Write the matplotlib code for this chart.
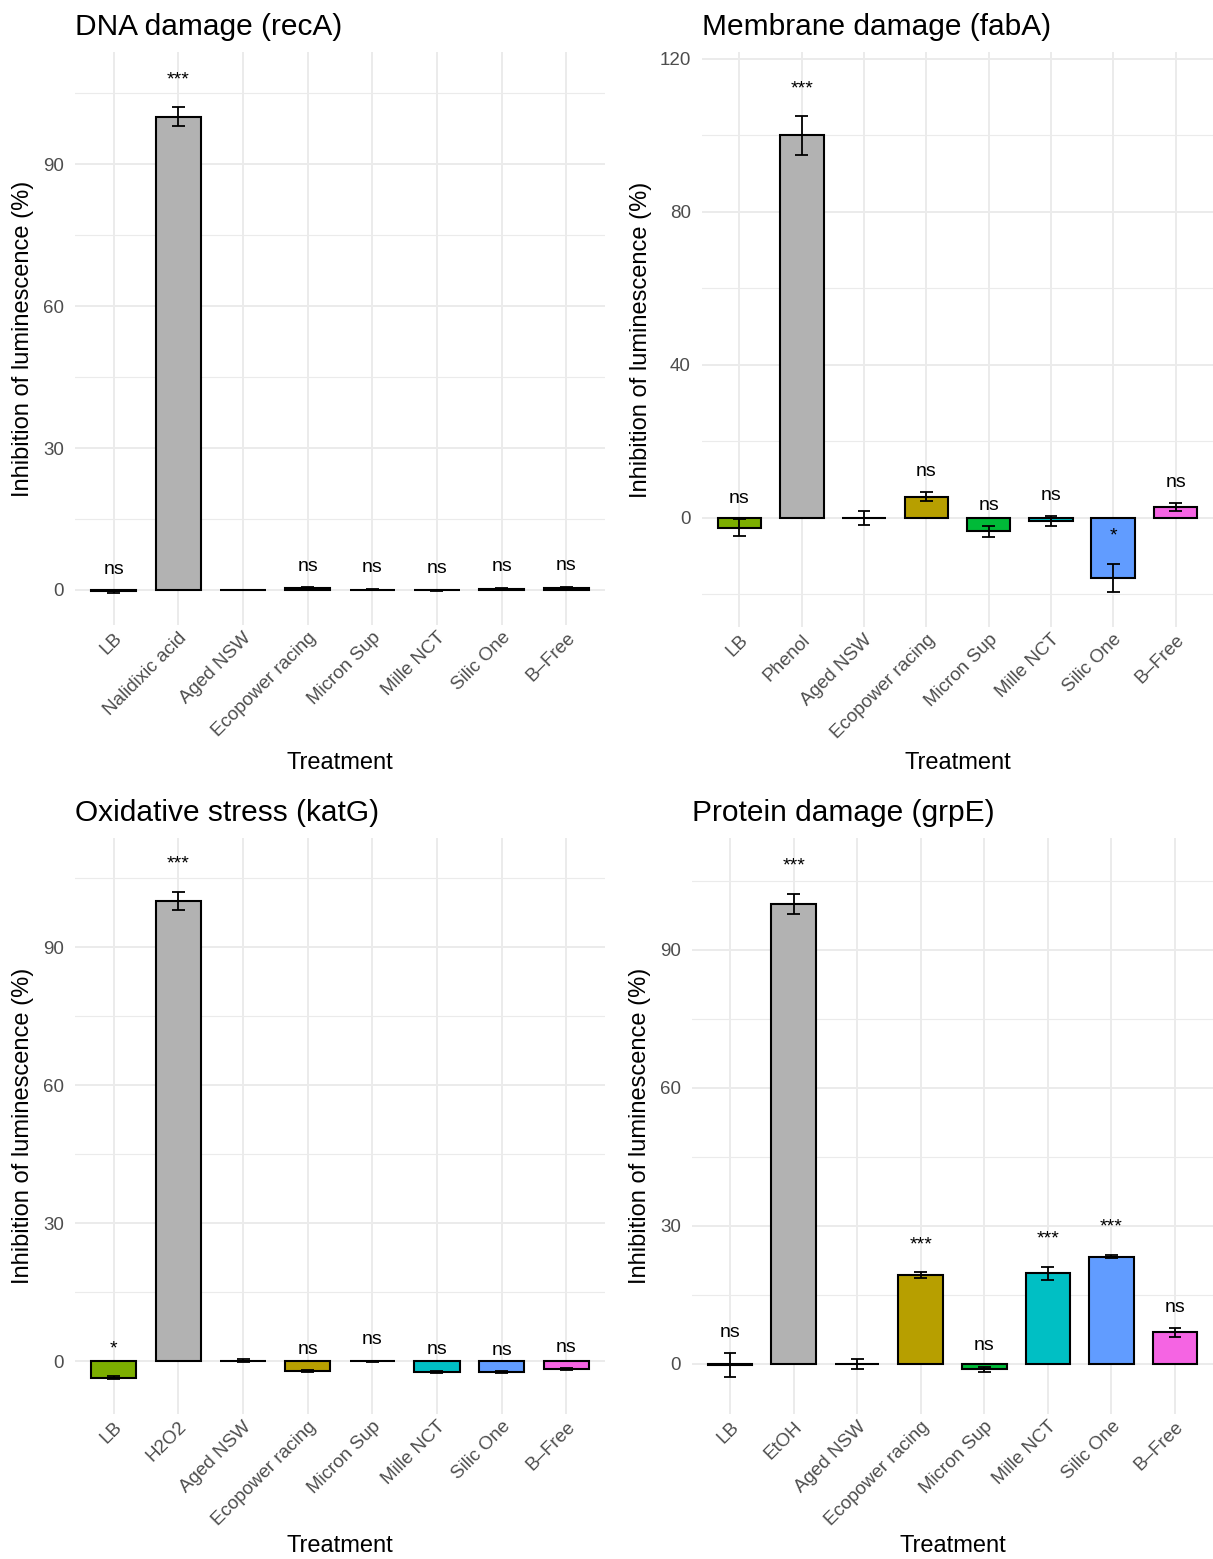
import numpy as np
import matplotlib
matplotlib.use("Agg")
import matplotlib.pyplot as plt
from matplotlib.ticker import FixedLocator

plt.rcParams['font.family'] = ['Liberation Sans', 'DejaVu Sans']

# treatment order on the x axis (the positive control changes per reporter)
samples = ["LB", "Aged NSW", "Ecopower racing", "Micron Sup", "Mille NCT", "Silic One", "B–Free"]
fills = ["#7CAE00", "#F8766D", "#B79F00", "#00BA38", "#00BFC4", "#619CFF", "#F564E3"]
control_fill = "#B2B2B2"

# DNA damage (recA), positive control nalidixic acid
recA_control = "Nalidixic acid"
recA_mean = [-0.3, 100.0, 0.0, 0.4, 0.1, -0.1, 0.3, 0.5]
recA_se = [0.3, 2.0, 0.1, 0.2, 0.2, 0.2, 0.2, 0.2]
recA_sig = ["ns", "***", "", "ns", "ns", "ns", "ns", "ns"]

# Membrane damage (fabA), positive control phenol
fabA_control = "Phenol"
fabA_mean = [-2.5, 100.0, 0.0, 5.6, -3.5, -0.9, -15.7, 2.8]
fabA_se = [2.2, 5.0, 1.9, 1.1, 1.4, 1.3, 3.7, 1.0]
fabA_sig = ["ns", "***", "", "ns", "ns", "ns", "*", "ns"]

# Oxidative stress (katG), positive control H2O2
katG_control = "H2O2"
katG_mean = [-3.6, 100.0, 0.1, -2.1, 0.0, -2.3, -2.4, -1.7]
katG_se = [0.3, 2.0, 0.4, 0.2, 0.1, 0.2, 0.2, 0.2]
katG_sig = ["*", "***", "", "ns", "ns", "ns", "ns", "ns"]

# Protein damage (grpE), positive control EtOH
grpE_control = "EtOH"
grpE_mean = [-0.3, 100.0, 0.05, 19.3, -1.2, 19.7, 23.3, 6.85]
grpE_se = [2.6, 2.2, 1.1, 0.6, 0.6, 1.4, 0.4, 0.95]
grpE_sig = ["ns", "***", "", "***", "ns", "***", "***", "ns"]

W, H = 1213, 1559
fig = plt.figure(figsize=(W / 100, H / 100), dpi=100)


def add_axes(left, top, right, bottom):
    return fig.add_axes([left / W, 1 - bottom / H, (right - left) / W, (bottom - top) / H])


def panel(ax, title, control, mean, se, sig, major, minor, ylim, ylab_px, xlab_px):
    labels = [samples[0], control] + samples[1:]
    colors = [fills[0], control_fill] + fills[1:]
    x = np.arange(len(labels))
    mean = np.array(mean)
    se = np.array(se)

    ax.set_xlim(-0.6, len(labels) - 0.4)
    ax.set_ylim(*ylim)
    ax.yaxis.set_major_locator(FixedLocator(major))
    ax.yaxis.set_minor_locator(FixedLocator(minor))
    ax.grid(True, which='major', color='#EBEBEB', lw=1.4, zorder=0)
    ax.grid(True, which='minor', axis='y', color='#EBEBEB', lw=0.8, zorder=0)
    ax.set_axisbelow(True)
    for s in ax.spines.values():
        s.set_visible(False)
    ax.tick_params(which='both', length=0)
    ax.tick_params(axis='y', pad=8, labelsize=13.5, labelcolor='#4D4D4D')
    ax.tick_params(axis='x', pad=3, labelsize=13.5, labelcolor='#4D4D4D')

    ax.bar(x, mean, width=0.7, color=colors, edgecolor='black', linewidth=1.5, zorder=2)
    # error bars: mean +/- SE
    ax.vlines(x, mean - se, mean + se, color='black', lw=1.3, zorder=3)
    ax.hlines(mean - se, x - 0.1, x + 0.1, color='black', lw=1.3, zorder=3)
    ax.hlines(mean + se, x - 0.1, x + 0.1, color='black', lw=1.3, zorder=3)

    for xi, top, s in zip(x, mean + se, sig):
        if s:
            # asterisks sit a little higher than the "ns" labels
            dy = 20 if '*' in s else 15
            ax.annotate(s, (xi, top), xytext=(0, dy), textcoords='offset points',
                        ha='center', va='center', fontsize=14, zorder=4)

    ax.set_xticks(x)
    ax.set_xticklabels(labels, rotation=45, ha='right', va='top', rotation_mode='anchor')
    ax.set_title(title, loc='left', fontsize=21.5, pad=12)

    # axis titles placed a fixed number of pixels away from the panel
    bb = ax.get_position()
    w_px, h_px = bb.width * W, bb.height * H
    ax.set_xlabel("Treatment", fontsize=17, va='center')
    ax.xaxis.set_label_coords(0.5, -xlab_px / h_px)
    ax.set_ylabel("Inhibition of luminescence (%)", fontsize=17, va='center')
    ax.yaxis.set_label_coords(-ylab_px / w_px, 0.5)


ax1 = add_axes(75, 52, 605, 625)
panel(ax1, "DNA damage (recA)", recA_control, recA_mean, recA_se, recA_sig,
      [0, 30, 60, 90], [15, 45, 75, 105], (-7.4, 113.7), 52, 138)

ax2 = add_axes(702, 52, 1213, 627)
panel(ax2, "Membrane damage (fabA)", fabA_control, fabA_mean, fabA_se, fabA_sig,
      [0, 40, 80, 120], [-20, 20, 60, 100], (-28.5, 121.8), 61, 136)

ax3 = add_axes(75, 838, 605, 1414)
panel(ax3, "Oxidative stress (katG)", katG_control, katG_mean, katG_se, katG_sig,
      [0, 30, 60, 90], [15, 45, 75, 105], (-11.5, 113.7), 52, 132)

ax4 = add_axes(692, 838, 1213, 1414)
panel(ax4, "Protein damage (grpE)", grpE_control, grpE_mean, grpE_se, grpE_sig,
      [0, 30, 60, 90], [15, 45, 75, 105], (-10.9, 114.3), 52, 132)

fig.savefig("out.png", dpi=100, facecolor='white')
